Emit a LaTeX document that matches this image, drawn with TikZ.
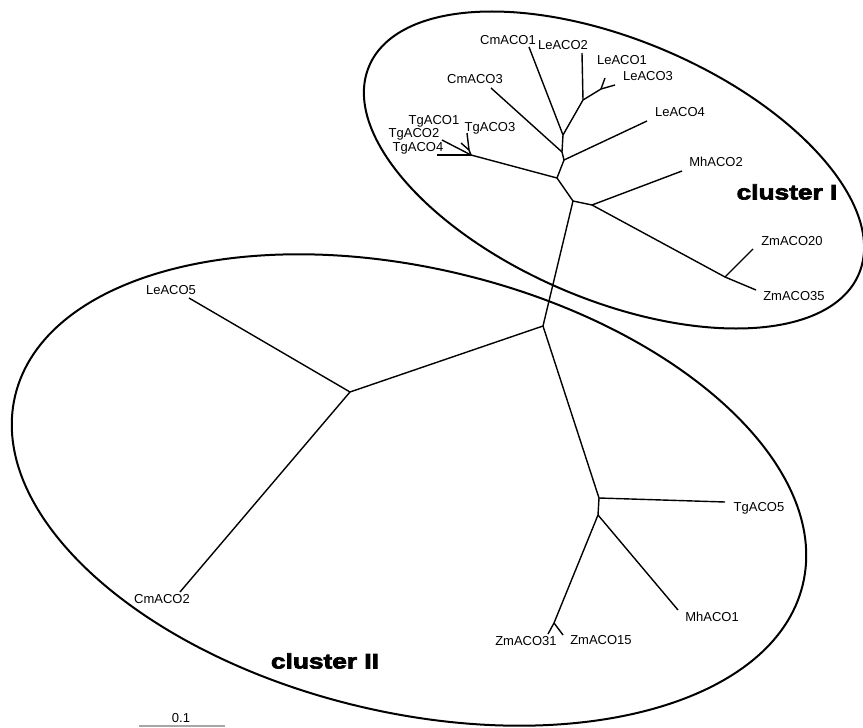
\documentclass[tikz,border=0pt]{standalone}
\usepackage{fontspec}
\usepackage{graphicx}
\setmainfont{Liberation Sans}
\newfontfamily\heavyfont[FakeBold=3]{Liberation Sans}
\begin{document}
\begin{tikzpicture}[x=1pt,y=-1pt,
  branch/.style={line width=1.4pt, line join=round},
  hull/.style={line width=2pt},
  lab/.style={font=\fontsize{13}{15}\selectfont, inner sep=0pt, text height=9.3pt, text depth=0pt},
  clab/.style={font=\heavyfont\bfseries\fontsize{21}{24}\selectfont, inner sep=0pt, text height=15pt, text depth=0pt},
  scalebar/.style={draw=gray!70, line width=1.2pt}]
\useasboundingbox (0,0) rectangle (863,728);

% cluster outlines
\draw[hull, rotate around={-23:(614,170)}] (614,170) ellipse [x radius=266, y radius=130];
\draw[hull, rotate around={-13.5:(409,490)}] (409,490) ellipse [x radius=405, y radius=222];

% internal nodes
\coordinate (A) at (557,178);
\coordinate (B) at (564,160);
\coordinate (C) at (562,152);
\coordinate (D) at (563,135);
\coordinate (E) at (583,100);
\coordinate (F) at (601,89);
\coordinate (G) at (471,155);
\coordinate (H) at (469,150);
\coordinate (K) at (573,201);
\coordinate (L) at (592,205);
\coordinate (M) at (725,277);
\coordinate (N) at (543,326);
\coordinate (P) at (350,392);
\coordinate (Q) at (599,498);
\coordinate (R) at (598,515);
\coordinate (S) at (554,623);

% tips
\coordinate (tLeACO4) at (647,121);
\coordinate (tCmACO3) at (491,88);
\coordinate (tCmACO1) at (529,47);
\coordinate (tLeACO2) at (582,53);
\coordinate (tLeACO1) at (605,78);
\coordinate (tLeACO3) at (615,85);
\coordinate (tTgACO4) at (437,155);
\coordinate (tTgACO2) at (442,140);
\coordinate (tTgACO3) at (467,133);
\coordinate (tTgACO1) at (461,143);
\coordinate (tMhACO2) at (682,171);
\coordinate (tZmACO20) at (753,249);
\coordinate (tZmACO35) at (756,290);
\coordinate (tLeACO5) at (189,298);
\coordinate (tCmACO2) at (180,592);
\coordinate (tTgACO5) at (725,502);
\coordinate (tMhACO1) at (678,610);
\coordinate (tZmACO31) at (548,634);
\coordinate (tZmACO15) at (563,635);

% branches
\draw[branch] (G) -- (A) -- (B) -- (C) -- (D) -- (E) -- (F);
\draw[branch] (B) -- (tLeACO4);
\draw[branch] (C) -- (tCmACO3);
\draw[branch] (D) -- (tCmACO1);
\draw[branch] (E) -- (tLeACO2);
\draw[branch] (F) -- (tLeACO1);
\draw[branch] (F) -- (tLeACO3);
\draw[branch] (G) -- (tTgACO4);
\draw[branch] (G) -- (tTgACO2);
\draw[branch] (G) -- (H) -- (tTgACO3);
\draw[branch] (H) -- (tTgACO1);
\draw[branch] (A) -- (K) -- (L) -- (M) -- (tZmACO35);
\draw[branch] (L) -- (tMhACO2);
\draw[branch] (M) -- (tZmACO20);
\draw[branch] (K) -- (N) -- (P) -- (tLeACO5);
\draw[branch] (P) -- (tCmACO2);
\draw[branch] (N) -- (Q) -- (tTgACO5);
\draw[branch] (Q) -- (R) -- (tMhACO1);
\draw[branch] (R) -- (S) -- (tZmACO31);
\draw[branch] (S) -- (tZmACO15);

% labels
\node[lab] (lCmACO1) at (508,40) {CmACO1};
\node[lab] (lLeACO2) at (563,45) {LeACO2};
\node[lab] (lLeACO1) at (622,60) {LeACO1};
\node[lab] (lLeACO3) at (648,76) {LeACO3};
\node[lab] (lCmACO3) at (475,79) {CmACO3};
\node[lab] (lLeACO4) at (680,112) {LeACO4};
\node[lab] (lTgACO1) at (434,120) {TgACO1};
\node[lab] (lTgACO3) at (490,127) {TgACO3};
\node[lab] (lTgACO2) at (414,133) {TgACO2};
\node[lab] (lTgACO4) at (418,147) {TgACO4};
\node[lab] (lMhACO2) at (716,162) {MhACO2};
\node[lab] (lZmACO20) at (792,241) {ZmACO20};
\node[lab] (lZmACO35) at (794,296) {ZmACO35};
\node[lab] (lLeACO5) at (171,290) {LeACO5};
\node[lab] (lCmACO2) at (162,599) {CmACO2};
\node[lab] (lTgACO5) at (759,507) {TgACO5};
\node[lab] (lMhACO1) at (712,617) {MhACO1};
\node[lab] (lZmACO31) at (526,641) {ZmACO31};
\node[lab] (lZmACO15) at (601,640) {ZmACO15};

\node[clab] (cI) at (787,192) {\scalebox{1.25}[1]{cluster I}};
\node[clab] (cII) at (325,661) {\scalebox{1.25}[1]{cluster II}};

% scale bar
\coordinate (s0) at (139,726);
\coordinate (s1) at (225,726);
\draw[scalebar] (s0) -- (s1);
\node[lab] (lscale) at (181,718) {0.1};
\end{tikzpicture}
\end{document}
